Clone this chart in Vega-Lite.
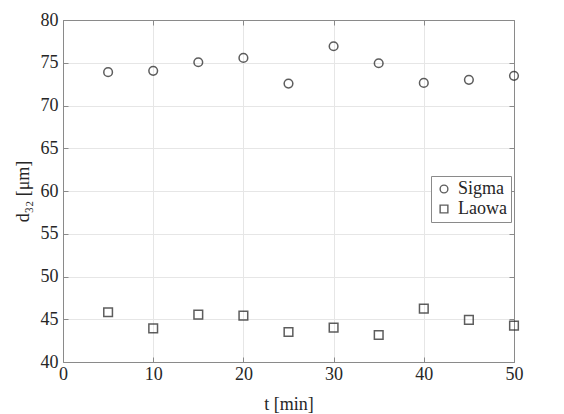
{
  "$schema": "https://vega.github.io/schema/vega-lite/v6.json",
  "width": 451,
  "height": 342,
  "autosize": {"type": "none"},
  "padding": {"left": 63, "top": 20, "right": 50, "bottom": 52},
  "background": "white",
  "config": {
    "view": {"stroke": "#8a8a8a", "strokeWidth": 1},
    "font": "Liberation Serif",
    "axis": {
      "labelFont": "Liberation Serif",
      "titleFont": "Liberation Serif",
      "labelFontSize": 18,
      "titleFontSize": 18,
      "titleFontWeight": "normal",
      "labelColor": "#262626",
      "titleColor": "#262626",
      "domainColor": "#8a8a8a",
      "tickColor": "#8a8a8a",
      "gridColor": "#e6e6e6",
      "gridWidth": 1
    },
    "legend": {"labelFont": "Liberation Serif"}
  },
  "data": {
    "values": [
      {"t": 5, "d": 73.9, "lens": "Sigma"},
      {"t": 10, "d": 74.05, "lens": "Sigma"},
      {"t": 15, "d": 75.06, "lens": "Sigma"},
      {"t": 20, "d": 75.57, "lens": "Sigma"},
      {"t": 25, "d": 72.56, "lens": "Sigma"},
      {"t": 30, "d": 76.93, "lens": "Sigma"},
      {"t": 35, "d": 74.94, "lens": "Sigma"},
      {"t": 40, "d": 72.64, "lens": "Sigma"},
      {"t": 45, "d": 73.0, "lens": "Sigma"},
      {"t": 50, "d": 73.47, "lens": "Sigma"},
      {"t": 5, "d": 45.82, "lens": "Laowa"},
      {"t": 10, "d": 43.94, "lens": "Laowa"},
      {"t": 15, "d": 45.54, "lens": "Laowa"},
      {"t": 20, "d": 45.42, "lens": "Laowa"},
      {"t": 25, "d": 43.51, "lens": "Laowa"},
      {"t": 30, "d": 44.02, "lens": "Laowa"},
      {"t": 35, "d": 43.16, "lens": "Laowa"},
      {"t": 40, "d": 46.24, "lens": "Laowa"},
      {"t": 45, "d": 44.92, "lens": "Laowa"},
      {"t": 50, "d": 44.25, "lens": "Laowa"}
    ]
  },
  "layer": [
    {
      "mark": {"type": "point", "filled": false, "strokeWidth": 1.5, "color": "#1a1a1a", "size": 75, "clip": false},
      "encoding": {
        "x": {
          "field": "t", "type": "quantitative",
          "scale": {"domain": [0, 50], "nice": false, "zero": false},
          "axis": {"values": [0, 10, 20, 30, 40, 50], "tickSize": -5, "labelPadding": 8, "title": "t [min]", "titlePadding": 12, "labelFlush": false}
        },
        "y": {
          "field": "d", "type": "quantitative",
          "scale": {"domain": [40, 80], "nice": false, "zero": false},
          "axis": {"values": [40, 45, 50, 55, 60, 65, 70, 75, 80], "tickSize": -5, "labelPadding": 10, "title": "d₃₂ [μm]", "titlePadding": 8, "labelFlush": false}
        },
        "shape": {
          "field": "lens", "type": "nominal",
          "scale": {"domain": ["Sigma", "Laowa"], "range": ["circle", "square"]},
          "legend": {
            "title": null,
            "orient": "none",
            "legendX": 368,
            "legendY": 156,
            "labelFont": "Liberation Serif",
            "labelFontSize": 18,
            "labelColor": "#262626",
            "symbolStrokeColor": "#1a1a1a",
            "symbolStrokeWidth": 1.4,
            "symbolSize": 60,
            "symbolFillColor": "transparent",
            "strokeColor": "#8a8a8a",
            "fillColor": "white",
            "padding": 4,
            "rowPadding": 2,
            "labelOffset": 5
          }
        }
      }
    },
    {
      "mark": {"type": "point", "opacity": 0},
      "encoding": {
        "x": {
          "field": "t", "type": "quantitative",
          "axis": {"orient": "top", "values": [0, 10, 20, 30, 40, 50], "tickSize": -5, "labels": false, "grid": false, "title": null}
        },
        "y": {
          "field": "d", "type": "quantitative",
          "axis": {"orient": "right", "values": [40, 45, 50, 55, 60, 65, 70, 75, 80], "tickSize": -5, "labels": false, "grid": false, "title": null}
        }
      }
    }
  ],
  "resolve": {"axis": {"x": "independent", "y": "independent"}}
}
